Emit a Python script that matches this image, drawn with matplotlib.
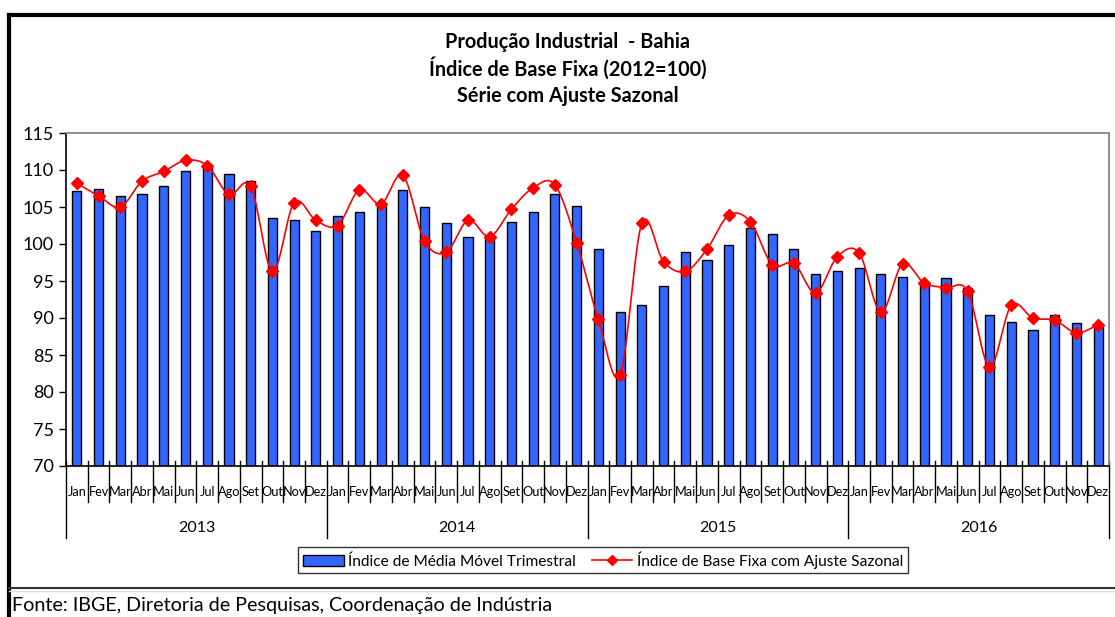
import matplotlib
matplotlib.use("Agg")
import matplotlib.pyplot as plt
from matplotlib.lines import Line2D
from matplotlib.patches import Patch
import numpy as np

plt.rcParams['font.family'] = ['Lato', 'DejaVu Sans']

# data
years = ["2013", "2014", "2015", "2016"]
months = ["Jan", "Fev", "Mar", "Abr", "Mai", "Jun", "Jul", "Ago", "Set", "Out", "Nov", "Dez"]

media_movel = [107.1, 107.5, 106.5, 106.7, 107.8, 109.9, 110.6, 109.5, 108.5, 103.5, 103.2, 101.7,
               103.8, 104.3, 105.1, 107.3, 105.0, 102.8, 101.0, 100.8, 103.0, 104.3, 106.7, 105.2,
               99.3, 90.8, 91.7, 94.3, 98.9, 97.8, 99.8, 102.1, 101.4, 99.3, 96.0, 96.4,
               96.7, 96.0, 95.6, 94.5, 95.4, 94.1, 90.4, 89.5, 88.4, 90.4, 89.3, 88.9]

ajuste_sazonal = [108.2, 106.5, 105.0, 108.5, 109.8, 111.3, 110.6, 106.7, 107.8, 96.3, 105.6, 103.2,
                  102.5, 107.3, 105.4, 109.3, 100.4, 98.9, 103.2, 101.0, 104.7, 107.6, 108.0, 100.2,
                  89.8, 82.3, 102.8, 97.6, 96.3, 99.3, 103.9, 103.0, 97.2, 97.4, 93.4, 98.3,
                  98.8, 90.8, 97.3, 94.7, 94.1, 93.6, 83.4, 91.7, 90.0, 89.7, 88.0, 89.1]


def smooth(x, y, n=16):
    # Catmull-Rom curve through the points (like Excel's smoothed line)
    x = np.asarray(x, float)
    y = np.asarray(y, float)
    px = np.concatenate([[x[0]], x, [x[-1]]])
    py = np.concatenate([[y[0]], y, [y[-1]]])
    t = np.linspace(0, 1, n, endpoint=False)
    xs, ys = [], []
    for i in range(1, len(px) - 2):
        for p, out in ((px, xs), (py, ys)):
            p0, p1, p2, p3 = p[i - 1], p[i], p[i + 1], p[i + 2]
            out.extend(0.5 * (2 * p1 + (-p0 + p2) * t + (2 * p0 - 5 * p1 + 4 * p2 - p3) * t ** 2
                              + (-p0 + 3 * p1 - 3 * p2 + p3) * t ** 3))
    xs.append(x[-1])
    ys.append(y[-1])
    return np.array(xs), np.array(ys)


fig = plt.figure(figsize=(11.15, 6.17), dpi=100)
ax = fig.add_axes([66 / 1115, 151 / 617, 1043 / 1115, 333 / 617])

x = np.arange(len(media_movel))
ax.bar(x, media_movel, width=0.42, color='#3366FF', edgecolor='black', linewidth=1, zorder=2)
sx, sy = smooth(x, ajuste_sazonal)
ax.plot(sx, sy, color='red', linewidth=1.2, zorder=3)
ax.plot(x, ajuste_sazonal, linestyle='none', marker='D', color='red', markersize=6.5, zorder=4)

ax.set_xlim(-0.5, len(x) - 0.5)
ax.set_ylim(70, 115)
ax.set_yticks(range(70, 116, 5))
ax.tick_params(axis='y', direction='out', length=5, width=1, labelsize=13, pad=4)
ax.set_xticks([])

for s in ['top', 'right']:
    ax.spines[s].set_color('#888888')
    ax.spines[s].set_linewidth(1.3)
for s in ['left', 'bottom']:
    ax.spines[s].set_color('black')
    ax.spines[s].set_linewidth(1.2)

# category axis: month ticks, month labels, year separators and labels
tr = ax.get_xaxis_transform()
for b in np.arange(-0.5, len(x), 1.0):
    bottom = -0.215 if (b + 0.5) % 12 == 0 else -0.108
    ax.plot([b, b], [0.015, bottom], color='black', linewidth=1, transform=tr, clip_on=False)
for i in x:
    ax.text(i, -0.078, months[i % 12], transform=tr, ha='center', va='center', fontsize=9.2)
for k, yr in enumerate(years):
    ax.text(12 * k + 5.5, -0.186, yr, transform=tr, ha='center', va='center', fontsize=11.5)

fig.text(0.509, 0.932, "Produção Industrial  - Bahia", ha='center', va='center',
         fontsize=14.3, fontweight='bold')
fig.text(0.509, 0.889, "Índice de Base Fixa (2012=100)", ha='center', va='center',
         fontsize=14.3, fontweight='bold')
fig.text(0.509, 0.845, "Série com Ajuste Sazonal", ha='center', va='center',
         fontsize=14.3, fontweight='bold')

handles = [Patch(facecolor='#3366FF', edgecolor='black', linewidth=1),
           Line2D([], [], color='red', marker='D', markersize=5, linewidth=1.2)]
leg = fig.legend(handles, ["Índice de Média Móvel Trimestral", "Índice de Base Fixa com Ajuste Sazonal"],
                 loc='center', bbox_to_anchor=(603 / 1115, 1 - 560 / 617), ncol=2, fontsize=11.2,
                 frameon=True, fancybox=False, edgecolor='black', handlelength=2.6,
                 handletextpad=0.3, columnspacing=1.0, borderpad=0.3)
leg.get_frame().set_linewidth(1)

# outer frame of the sheet
fig.add_artist(Line2D([9 / 1115, 1], [1 - 15 / 617] * 2, color='black', linewidth=3))
fig.add_artist(Line2D([9 / 1115] * 2, [0, 1 - 15 / 617], color='black', linewidth=3))
fig.add_artist(Line2D([9 / 1115, 1], [1 - 588 / 617] * 2, color='#333333', linewidth=1.5))
fig.add_artist(Line2D([9 / 1115, 1], [1 - 591 / 617] * 2, color='#dddddd', linewidth=1))

fig.text(12 / 1115, 1 - 606 / 617, "Fonte: IBGE, Diretoria de Pesquisas, Coordenação de Indústria",
         ha='left', va='center', fontsize=14.2)

plt.savefig("out.png", dpi=100)
